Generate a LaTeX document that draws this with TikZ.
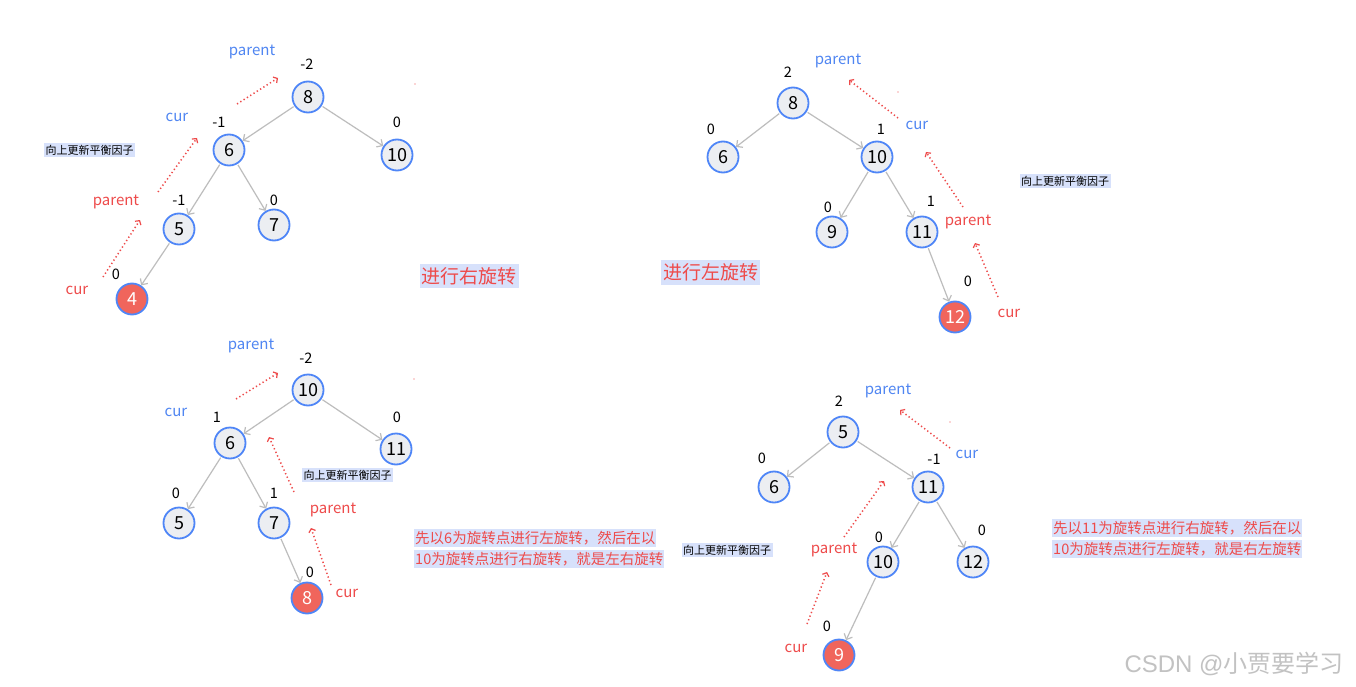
\documentclass[tikz,border=0pt]{standalone}
\usepackage{fontspec}
\setmainfont{Noto Sans CJK SC}
\newfontfamily\wmfont{Liberation Sans}
\usetikzlibrary{arrows.meta}
\definecolor{nblue}{HTML}{4F86F7}
\definecolor{nfill}{HTML}{ECEEF2}
\definecolor{nred}{HTML}{F0655C}
\definecolor{tred}{HTML}{EE4B4B}
\definecolor{tblue}{HTML}{5086F2}
\definecolor{egray}{HTML}{BDBDBD}
\definecolor{hl}{HTML}{D7E1FB}
\newcommand{\myfs}[1]{\fontsize{#1pt}{#1pt}\selectfont}
\begin{document}
\begin{tikzpicture}[x=1pt,y=-1pt,
  tn/.style={circle,draw=nblue,line width=1.8pt,fill=nfill,minimum size=31pt,inner sep=0pt,font=\myfs{18}},
  tnr/.style={tn,fill=nred,text=white},
  bf/.style={font=\myfs{14.5},inner sep=0pt},
  bl/.style={font=\myfs{15},text=tblue,inner sep=0pt},
  rl/.style={font=\myfs{15},text=tred,inner sep=0pt},
  edge/.style={draw=egray,line width=1.2pt,shorten <=1pt,-{Straight Barb[length=4.5pt,width=9pt,line width=1.2pt]}},
  dot/.style={draw=tred,line width=1.5pt,dash pattern=on 1.3pt off 2.6pt,-{Straight Barb[length=3pt,width=7pt,line width=1.2pt]}},
  tag/.style={fill=hl,font=\myfs{11},inner xsep=1.5pt,inner ysep=2pt},
  big/.style={fill=hl,font=\myfs{19},text=tred,inner xsep=2pt,inner ysep=3.5pt},
  long/.style={fill=hl,font=\myfs{14.5},text=tred,inner xsep=1pt,inner ysep=2.5pt,anchor=west},
  spk/.style={circle,fill=tred,inner sep=0pt,minimum size=1.2pt}
]
\useasboundingbox (0,0) rectangle (1356,687);
\fill[white] (0,0) rectangle (1356,687);

% ---------- top-left tree ----------
\node[tn] (a8) at (308,97) {8};
\node[tn] (a6) at (229,150) {6};
\node[tn] (a10) at (397,155) {10};
\node[tn] (a5) at (179,229) {5};
\node[tn] (a7) at (274,225) {7};
\node[tnr] (a4) at (132,299) {4};
\draw[edge] (a8) -- (a6);
\draw[edge] (a8) -- (a10);
\draw[edge] (a6) -- (a5);
\draw[edge] (a6) -- (a7);
\draw[edge] (a5) -- (a4);
\node[bf] (a8b) at (307,64) {-2};
\node[bf] (a6b) at (219,122) {-1};
\node[bf] (a10b) at (397,122) {0};
\node[bf] (a5b) at (179,200) {-1};
\node[bf] (a7b) at (274,200) {0};
\node[bf] (a4b) at (116,274) {0};
\node[bl] (apb) at (252,52) {parent};
\node[bl] (acb) at (177,117) {cur};
\node[rl] (apr) at (116,202) {parent};
\node[rl] (acr) at (77,290) {cur};
\coordinate (a1s) at (237,104); \coordinate (a1e) at (278,78);
\coordinate (a2s) at (158,192); \coordinate (a2e) at (197,138);
\coordinate (a3s) at (103,277); \coordinate (a3e) at (140,220);
\draw[dot] (a1s) -- (a1e);
\draw[dot] (a2s) -- (a2e);
\draw[dot] (a3s) -- (a3e);
\node[tag] (at) at (89.5,150) {向上更新平衡因子};
\node[big] (ar) at (469,276) {进行右旋转};
\node[spk] (ak) at (415,84) {};

% ---------- top-right tree ----------
\node[tn] (b8) at (793,103) {8};
\node[tn] (b6) at (723,157) {6};
\node[tn] (b10) at (877,157) {10};
\node[tn] (b9) at (832,232) {9};
\node[tn] (b11) at (922,232) {11};
\node[tnr] (b12) at (955,317) {12};
\draw[edge] (b8) -- (b6);
\draw[edge] (b8) -- (b10);
\draw[edge] (b10) -- (b9);
\draw[edge] (b10) -- (b11);
\draw[edge] (b11) -- (b12);
\node[bf] (b8b) at (788,72) {2};
\node[bf] (b6b) at (711,129) {0};
\node[bf] (b10b) at (881,129) {1};
\node[bf] (b9b) at (828,207) {0};
\node[bf] (b11b) at (931,201) {1};
\node[bf] (b12b) at (968,281) {0};
\node[bl] (bpb) at (838,61) {parent};
\node[bl] (bcb) at (917,125) {cur};
\node[rl] (bpr) at (968,222) {parent};
\node[rl] (bcr) at (1009,313) {cur};
\coordinate (b1s) at (898,118); \coordinate (b1e) at (849,80);
\coordinate (b2s) at (963,207); \coordinate (b2e) at (926,152);
\coordinate (b3s) at (998,297); \coordinate (b3e) at (975,243);
\draw[dot] (b1s) -- (b1e);
\draw[dot] (b2s) -- (b2e);
\draw[dot] (b3s) -- (b3e);
\node[tag] (bt) at (1065,181) {向上更新平衡因子};
\node[big] (br) at (710.5,272.5) {进行左旋转};
\node[spk] (bk) at (898,92) {};

% ---------- bottom-left tree ----------
\node[tn] (c10) at (308,390) {10};
\node[tn] (c6) at (230,443) {6};
\node[tn] (c11) at (396,449) {11};
\node[tn] (c5) at (179,523) {5};
\node[tn] (c7) at (274,523) {7};
\node[tnr] (c8) at (307,598) {8};
\draw[edge] (c10) -- (c6);
\draw[edge] (c10) -- (c11);
\draw[edge] (c6) -- (c5);
\draw[edge] (c6) -- (c7);
\draw[edge] (c7) -- (c8);
\node[bf] (c10b) at (306,358) {-2};
\node[bf] (c6b) at (217,417) {1};
\node[bf] (c11b) at (397,417) {0};
\node[bf] (c5b) at (176,493) {0};
\node[bf] (c7b) at (274,493) {1};
\node[bf] (c8b) at (310,572) {0};
\node[bl] (cpb) at (251,346) {parent};
\node[bl] (ccb) at (176,412) {cur};
\node[rl] (cpr) at (333,510) {parent};
\node[rl] (ccr) at (347,593) {cur};
\coordinate (c1s) at (236,399); \coordinate (c1e) at (278,373);
\coordinate (c2s) at (294,492); \coordinate (c2e) at (269,437);
\coordinate (c3s) at (331,585); \coordinate (c3e) at (311,528);
\draw[dot] (c1s) -- (c1e);
\draw[dot] (c2s) -- (c2e);
\draw[dot] (c3s) -- (c3e);
\node[tag] (ct) at (347.5,475) {向上更新平衡因子};
\node[long] (cl1) at (414,538) {先以6为旋转点进行左旋转，然后在以};
\node[long] (cl2) at (414,559) {10为旋转点进行右旋转，就是左右旋转};
\node[spk] (ck) at (414,379) {};

% ---------- bottom-right tree ----------
\node[tn] (d5) at (843,432) {5};
\node[tn] (d6) at (774,487) {6};
\node[tn] (d11) at (928,487) {11};
\node[tn] (d10) at (883,562) {10};
\node[tn] (d12) at (973,562) {12};
\node[tnr] (d9) at (839,655) {9};
\draw[edge] (d5) -- (d6);
\draw[edge] (d5) -- (d11);
\draw[edge] (d11) -- (d10);
\draw[edge] (d11) -- (d12);
\draw[edge] (d10) -- (d9);
\node[bf] (d5b) at (839,401) {2};
\node[bf] (d6b) at (762,458) {0};
\node[bf] (d11b) at (934,459) {-1};
\node[bf] (d10b) at (879,537) {0};
\node[bf] (d12b) at (982,530) {0};
\node[bf] (d9b) at (827,626) {0};
\node[bl] (dpb) at (888,391) {parent};
\node[bl] (dcb) at (967,454) {cur};
\node[rl] (dpr) at (834,550) {parent};
\node[rl] (dcr) at (796,648) {cur};
\coordinate (d1s) at (950,448); \coordinate (d1e) at (900,410);
\coordinate (d2s) at (844,537); \coordinate (d2e) at (884,481);
\coordinate (d3s) at (807,624); \coordinate (d3e) at (827,572);
\draw[dot] (d1s) -- (d1e);
\draw[dot] (d2s) -- (d2e);
\draw[dot] (d3s) -- (d3e);
\node[tag] (dt) at (727,550) {向上更新平衡因子};
\node[long] (dl1) at (1052,528) {先以11为旋转点进行右旋转，然后在以};
\node[long] (dl2) at (1052,549) {10为旋转点进行左旋转，就是右左旋转};
\node[spk] (dk) at (950,422) {};

% watermark
\node[font=\myfs{24},text=black!24,inner sep=0pt] (wm) at (1234,664) {{\wmfont CSDN @}小贾要学习};
\end{tikzpicture}
\end{document}
